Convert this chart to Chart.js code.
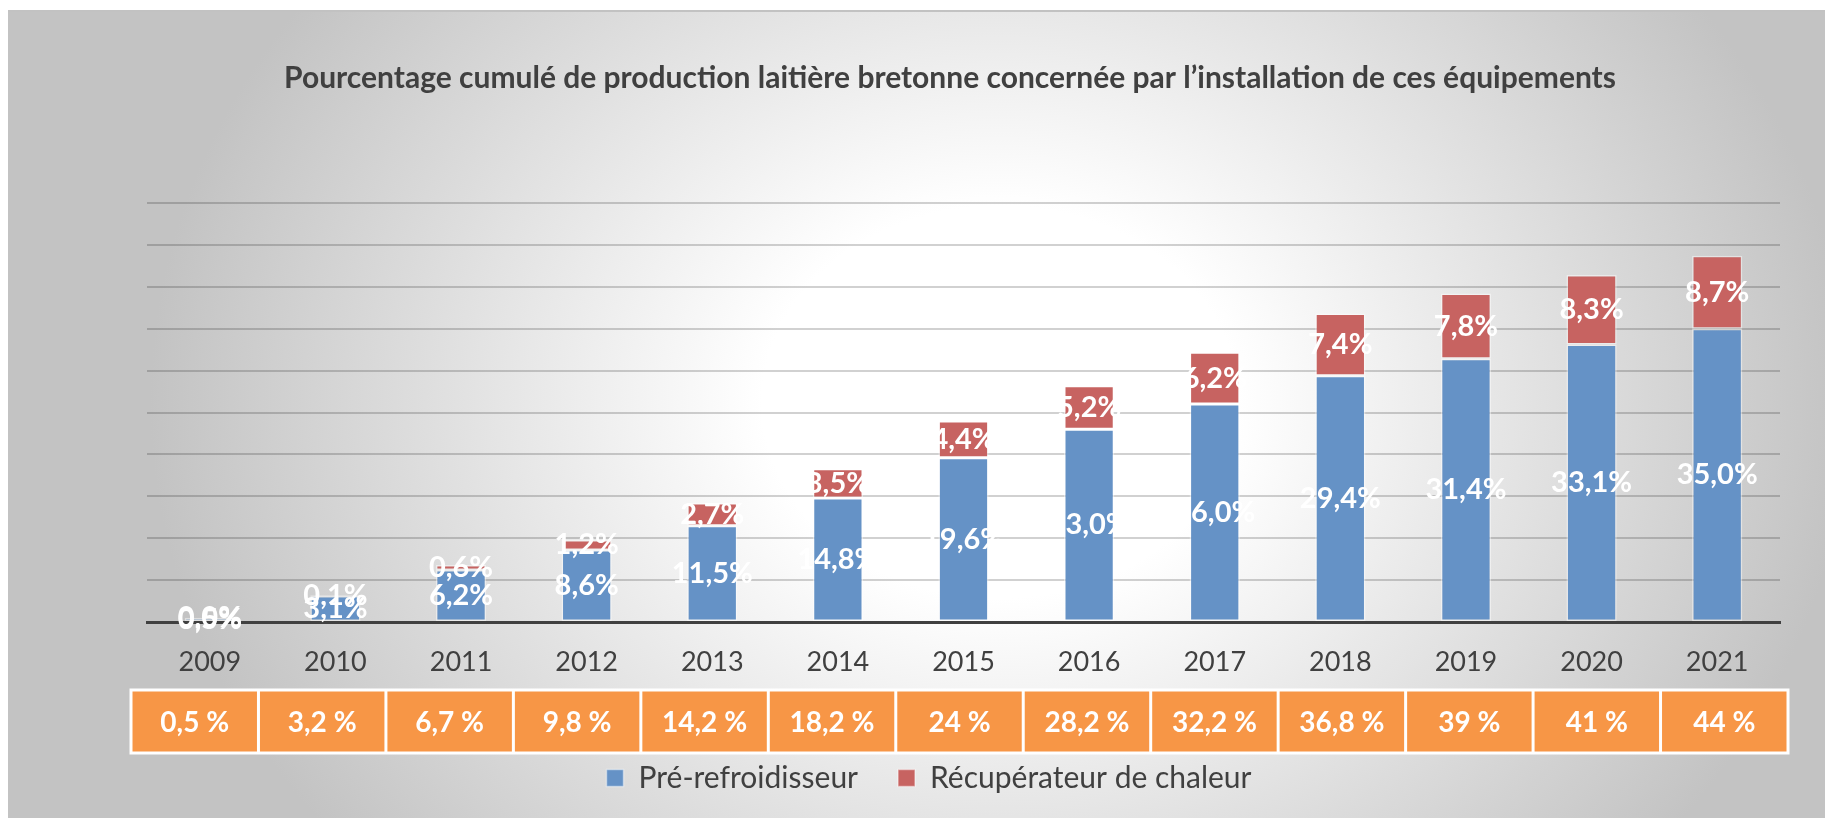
<!DOCTYPE html>
<html><head><meta charset="utf-8">
<script src="https://cdn.jsdelivr.net/npm/chart.js@4"></script>
<style>
html,body{margin:0;padding:0;width:1825px;height:818px;overflow:hidden;background:#fff;}
#panel{position:absolute;left:8px;top:10px;width:1817px;height:808px;border-top:2px solid #c2c2c2;box-sizing:border-box;
background: radial-gradient(ellipse 850px 700px at 992px 390px, #ffffff 0%, #ffffff 28%, #c3c3c3 100%);}
#c{position:absolute;left:0;top:0;}
</style></head><body>
<div id="panel"></div>
<canvas id="c" width="1825" height="818"></canvas>
<script>
const years = ['2009','2010','2011','2012','2013','2014','2015','2016','2017','2018','2019','2020','2021'];
const preRefroidisseur = [0.5, 3.1, 6.2, 8.6, 11.5, 14.8, 19.6, 23.0, 26.0, 29.4, 31.4, 33.1, 35.0];
const recuperateur = [0.0, 0.1, 0.6, 1.2, 2.7, 3.5, 4.4, 5.2, 6.2, 7.4, 7.8, 8.3, 8.7];
const cumulLabels = ['0,5 %','3,2 %','6,7 %','9,8 %','14,2 %','18,2 %','24 %','28,2 %','32,2 %','36,8 %','39 %','41 %','44 %'];
const seriesNames = ['Pré-refroidisseur', 'Récupérateur de chaleur'];
const titleText = 'Pourcentage cumulé de production laitière bretonne concernée par l\u2019installation de ces équipements';
const yMax = 50;
const yStep = 5;

const FONT = "Lato, 'Open Sans', sans-serif";
Chart.defaults.font.family = FONT;

function fmt(v){ return v.toFixed(1).replace('.', ',') + '%'; }

const barLabels = {
  id: 'barLabels',
  afterDatasetsDraw(chart) {
    const ctx = chart.ctx;
    ctx.save();
    ctx.font = 'bold 29px ' + FONT;
    ctx.fillStyle = '#ffffff';
    ctx.textAlign = 'center';
    ctx.textBaseline = 'middle';
    chart.data.datasets.forEach((ds, di) => {
      const meta = chart.getDatasetMeta(di);
      meta.data.forEach((bar, i) => {
        const p = bar.getProps(['x','y','base'], true);
        ctx.fillText(fmt(ds.data[i]), p.x, (p.y + p.base) / 2);
      });
    });
    ctx.restore();
  }
};

const cumulTable = {
  id: 'cumulTable',
  afterDraw(chart) {
    const ctx = chart.ctx;
    const a = chart.chartArea;
    const left = a.left - 16, right = a.right + 8;
    const top = a.bottom + 68, bottom = a.bottom + 131;
    const n = cumulLabels.length;
    const w = (right - left) / n;
    ctx.save();
    ctx.fillStyle = '#F79646';
    ctx.fillRect(left, top, right - left, bottom - top);
    ctx.strokeStyle = '#ffffff';
    ctx.lineWidth = 3;
    ctx.strokeRect(left, top, right - left, bottom - top);
    for (let i = 1; i < n; i++) {
      ctx.beginPath();
      ctx.moveTo(left + i * w, top);
      ctx.lineTo(left + i * w, bottom);
      ctx.stroke();
    }
    ctx.font = 'bold 28px ' + FONT;
    ctx.fillStyle = '#ffffff';
    ctx.textAlign = 'center';
    ctx.textBaseline = 'middle';
    cumulLabels.forEach((t, i) => ctx.fillText(t, left + (i + 0.5) * w, (top + bottom) / 2 + 1));
    ctx.restore();
  }
};

const legendShift = {
  id: 'legendShift',
  afterLayout(chart) {
    if (chart.legend) { chart.legend.left -= 21; chart.legend.right -= 21; }
  }
};

new Chart(document.getElementById('c'), {
  type: 'bar',
  data: {
    labels: years,
    datasets: [
      { label: seriesNames[0], data: preRefroidisseur, backgroundColor: '#6592C6',
        borderColor: 'rgba(255,255,255,0.45)', borderWidth: 1.5, borderSkipped: false },
      { label: seriesNames[1], data: recuperateur, backgroundColor: '#C76361',
        borderColor: 'rgba(255,255,255,0.45)', borderWidth: 1.5, borderSkipped: false }
    ]
  },
  options: {
    responsive: false,
    animation: false,
    layout: { padding: { left: 120, right: 45, top: 10, bottom: 15 } },
    datasets: { bar: { categoryPercentage: 1, barPercentage: 0.4 } },
    plugins: {
      title: {
        display: true, text: titleText, color: '#404040',
        font: { size: 30, weight: 'bold', family: FONT, lineHeight: 1.2 },
        padding: { top: 50, bottom: 107 }
      },
      legend: {
        display: true, position: 'bottom',
        labels: { boxWidth: 17, boxHeight: 17, padding: 40, color: '#404040',
          font: { size: 30, family: FONT } }
      },
      tooltip: { enabled: false }
    },
    scales: {
      x: {
        stacked: true,
        grid: { display: false },
        border: { display: true, color: '#404040', width: 3 },
        ticks: { color: '#404040', font: { size: 27, family: FONT }, padding: 16.5, maxRotation: 0 },
        afterFit(s) { s.height = 101; }
      },
      y: {
        stacked: true, min: 0, max: yMax,
        ticks: { display: false, stepSize: yStep },
        grid: { color: 'rgba(0,0,0,0.18)', lineWidth: 2, drawTicks: false },
        border: { display: false },
        afterFit(s) { s.width = 27; }
      }
    }
  },
  plugins: [barLabels, cumulTable, legendShift]
});
</script>
</body></html>
